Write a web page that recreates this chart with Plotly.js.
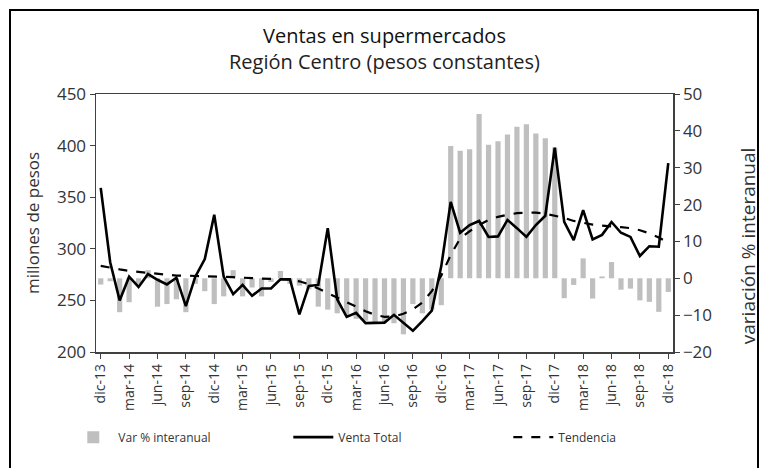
<!DOCTYPE html>
<html>
<head>
<meta charset="utf-8">
<script src="https://cdn.plot.ly/plotly-3.0.1.min.js"></script>
<style>
  html, body { margin: 0; padding: 0; background: #fff; }
  #wrap { position: relative; width: 762px; height: 468px; overflow: hidden; }
  #chart { position: absolute; left: 0; top: 0; width: 762px; height: 468px; }
  #frame { position: absolute; left: 9px; top: 9px; width: 746px; height: 470px;
           border: 2px solid #000; pointer-events: none; }
</style>
</head>
<body>
<div id="wrap">
  <div id="chart"></div>
  <div id="frame"></div>
</div>
<script>
const months = [
  'dic-13','ene-14','feb-14','mar-14','abr-14','may-14','jun-14','jul-14','ago-14','sep-14','oct-14','nov-14',
  'dic-14','ene-15','feb-15','mar-15','abr-15','may-15','jun-15','jul-15','ago-15','sep-15','oct-15','nov-15',
  'dic-15','ene-16','feb-16','mar-16','abr-16','may-16','jun-16','jul-16','ago-16','sep-16','oct-16','nov-16',
  'dic-16','ene-17','feb-17','mar-17','abr-17','may-17','jun-17','jul-17','ago-17','sep-17','oct-17','nov-17',
  'dic-17','ene-18','feb-18','mar-18','abr-18','may-18','jun-18','jul-18','ago-18','sep-18','oct-18','nov-18',
  'dic-18'
];

const tickLabels = ['dic-13','mar-14','jun-14','sep-14','dic-14','mar-15','jun-15','sep-15','dic-15',
  'mar-16','jun-16','sep-16','dic-16','mar-17','jun-17','sep-17','dic-17','mar-18','jun-18','sep-18','dic-18'];

const varInteranual = [
  -1.7, -0.8, -9.2, -6.5, -1.5, 2.2, -7.7, -7.0, -5.7, -9.2, -1.5, -3.5,
  -7.0, -4.9, 2.2, -4.9, -2.5, -4.9, -1.0, 2.0, -1.5, -2.0, -3.0, -7.7,
  -8.5, -9.5, -10.0, -11.0, -11.5, -12.0, -12.0, -12.2, -15.2, -7.0, -9.5, -8.5,
  -7.3, 35.9, 34.6, 35.0, 44.6, 36.2, 37.2, 39.0, 41.1, 41.8, 39.3, 38.0,
  35.5, -5.4, -1.8, 5.4, -5.5, 0.5, 4.4, -3.1, -2.8, -6.0, -6.4, -9.1,
  -3.7
];

const ventaTotal = [
  359, 287, 250, 273, 263, 275.5, 270, 265.5, 272, 244.5, 273, 290,
  333, 273, 256, 265, 254.5, 261.5, 261.5, 270.5, 270.5, 236.5, 264, 265,
  320, 251, 234, 238, 228, 228, 228.5, 236, 228, 220.5, 230, 240,
  283, 345.5, 315.5, 323, 327, 311.5, 312, 328, 320, 311.5, 323, 332,
  398, 326, 308.5, 337.5, 309, 313.5, 326, 315.5, 311.5, 293, 302.5, 302,
  383
];

const tendencia = [
  283.5, 281.5, 280, 278.5, 277.5, 276.5, 275.5, 274.5, 274, 274, 273.8, 273.5,
  273.5, 273, 272.5, 272, 271.5, 271.2, 271, 270.7, 270, 268.5, 265.7, 261.5,
  257, 253, 248, 243.5, 239.5, 236, 234, 234.5, 237, 241.4, 248, 259,
  274, 294, 310, 317, 323, 328, 331, 333, 334.5, 335, 335, 334,
  332, 330, 327, 325, 323.5, 322.5, 322, 321, 320, 318, 315, 311,
  306
];

const FONT = 'Open Sans, Lato, sans-serif';
const AX = '#404040';

const traces = [
  {
    type: 'bar', name: 'Var % interanual', x: months, y: varInteranual,
    yaxis: 'y', marker: { color: '#BFBFBF' }, hoverinfo: 'x+y'
  },
  {
    type: 'scatter', mode: 'lines', name: 'Venta Total', x: months, y: ventaTotal,
    yaxis: 'y2', line: { color: '#000', width: 2.6 }
  },
  {
    type: 'scatter', mode: 'lines', name: 'Tendencia', x: months, y: tendencia,
    yaxis: 'y2', line: { color: '#000', width: 2.2, dash: 'dash' }
  }
];

const layout = {
  width: 762, height: 468,
  margin: { l: 96, r: 89, t: 94, b: 116 },
  paper_bgcolor: '#fff', plot_bgcolor: '#fff',
  font: { family: FONT, color: '#222' },
  showlegend: true,
  bargap: 0.45,
  title: { text: '' },
  xaxis: {
    type: 'category', categoryorder: 'array', categoryarray: months,
    tickmode: 'array', tickvals: tickLabels, ticktext: tickLabels,
    tickangle: -90, tickfont: { size: 14, color: '#333' },
    ticks: 'outside', ticklen: 5, tickcolor: AX,
    showline: true, linecolor: AX, linewidth: 1.5, mirror: true,
    showgrid: false, zeroline: false, range: [-0.5, 60.5]
  },
  yaxis: {
    side: 'right', range: [-20, 50], dtick: 10, tick0: 0,
    tickfont: { size: 17, color: '#333' },
    ticks: 'outside', ticklen: 5, tickcolor: AX,
    showline: true, linecolor: AX, linewidth: 1.5,
    showgrid: false, zeroline: false
  },
  yaxis2: {
    side: 'left', overlaying: 'y', range: [200, 450], dtick: 50, tick0: 200,
    tickfont: { size: 17, color: '#333' },
    ticks: 'outside', ticklen: 5, tickcolor: AX,
    showline: true, linecolor: AX, linewidth: 1.5,
    showgrid: false, zeroline: false
  },
  legend: {
    orientation: 'h', x: -0.048, xanchor: 'left', y: -0.33, yanchor: 'middle',
    font: { size: 12, color: '#333' }, entrywidth: 165, entrywidthmode: 'pixels',
    itemwidth: 40, bgcolor: 'rgba(0,0,0,0)'
  },
  annotations: [
    { text: 'Ventas en supermercados', xref: 'paper', yref: 'paper', x: 0.5, y: 1,
      xanchor: 'center', yanchor: 'bottom', yshift: 43, showarrow: false,
      font: { size: 20, color: '#111', family: FONT } },
    { text: 'Región Centro (pesos constantes)', xref: 'paper', yref: 'paper', x: 0.5, y: 1,
      xanchor: 'center', yanchor: 'bottom', yshift: 17, showarrow: false,
      font: { size: 20, color: '#222', family: FONT } },
    { text: 'millones de pesos', xref: 'paper', yref: 'paper', x: -0.111, y: 0.5,
      xanchor: 'center', yanchor: 'middle', textangle: -90, showarrow: false,
      font: { size: 17, color: '#333', family: FONT } },
    { text: 'variación % interanual', xref: 'paper', yref: 'paper', x: 1.13, y: 0.41,
      xanchor: 'center', yanchor: 'middle', textangle: -90, showarrow: false,
      font: { size: 19, color: '#333', family: FONT } }
  ]
};

Plotly.newPlot('chart', traces, layout, { displayModeBar: false, staticPlot: true });
</script>
</body>
</html>
